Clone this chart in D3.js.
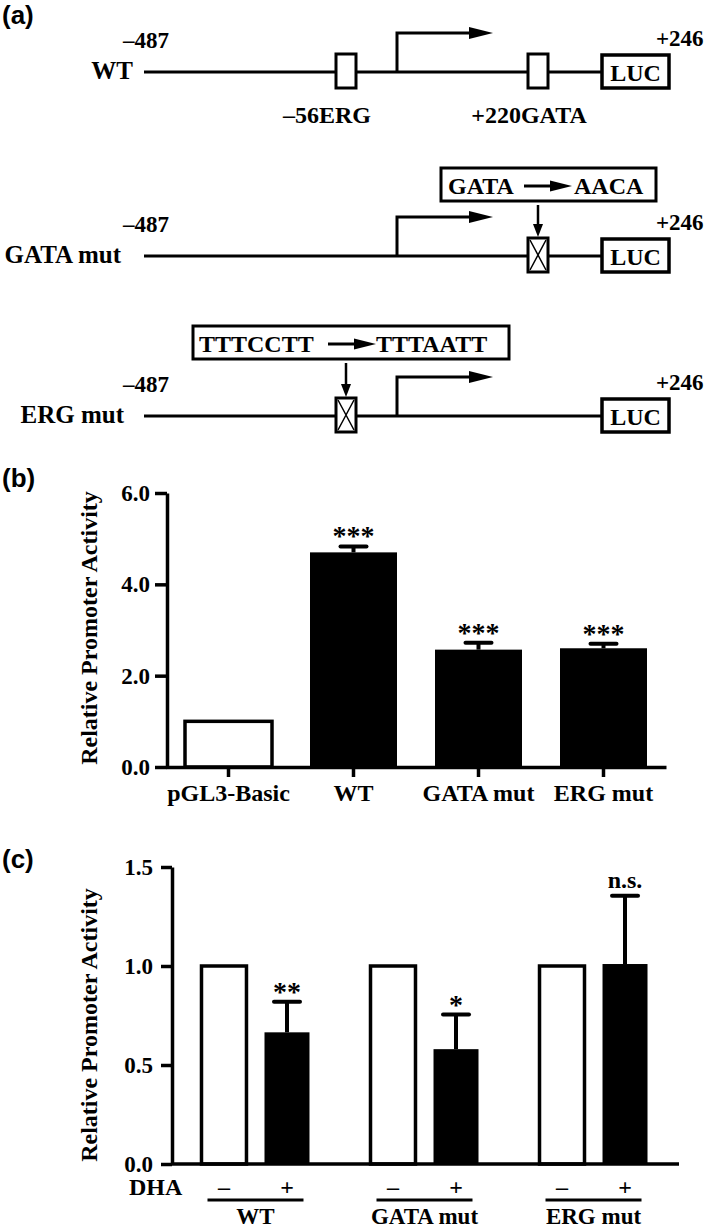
<!DOCTYPE html>
<html><head><meta charset="utf-8">
<script src="https://cdn.jsdelivr.net/npm/d3@7"></script>
<style>body{margin:0;background:#fff} svg{display:block}</style>
</head><body><svg id="chart" width="709" height="1229"></svg>
<script>
// ---------------- DATA ----------------
const panelLetters = ["(a)", "(b)", "(c)"];
const constructNames = ["WT", "GATA mut", "ERG mut"];
const constructEnds = ["–487", "+246"];
const siteNames = ["–56ERG", "+220GATA"];
const reporterName = "LUC";
const mutationFrom = ["GATA", "TTTCCTT"];
const mutationTo = ["AACA", "TTTAATT"];

const bCategories = ["pGL3-Basic", "WT", "GATA mut", "ERG mut"];
const bValues = [1.0, 4.70, 2.57, 2.60];
const bErrors = [0, 0.13, 0.15, 0.10];
const bSig = ["", "***", "***", "***"];
const bTicks = [0, 2, 4, 6];
const bFilled = [false, true, true, true];

const cGroups = ["WT", "GATA mut", "ERG mut"];
const cDHA = ["–", "+"];
const cControl = [1.0, 1.0, 1.0];
const cTreated = [0.665, 0.58, 1.01];
const cTreatedErr = [0.155, 0.175, 0.345];
const cSig = ["**", "*", "n.s."];
const cTicks = [0, 0.5, 1.0, 1.5];
const yTitle = "Relative Promoter Activity";

// ---------------- LAYOUT ----------------
const svg = d3.select("#chart");
const SERIF = "'Liberation Serif','Times New Roman',serif";
const SANS = "'Liberation Sans',Arial,sans-serif";
const INK = "#000";

function letter(txt, y) {
  svg.append("text").attr("x", 2).attr("y", y).text(txt)
    .attr("font-family", SANS).attr("font-weight", "bold").attr("font-size", 26).attr("fill", INK);
}
letter(panelLetters[0], 24);
letter(panelLetters[1], 487);
letter(panelLetters[2], 868);

// ---------- Panel (a): schematic ----------
const g = svg.append("g").attr("font-family", SERIF).attr("font-weight", "bold").attr("fill", INK);
const rowY = [72, 256, 416];
const rowLabelEnd = [133, 121, 124];
const lineX0 = 144, lineX1 = 602;
const ergX = 346, gataX = 538, tssX = 397, arrowTip = 493;
const lucX0 = 602, lucX1 = 669;
const siteW = 20;

function text(sel, x, y, t, anchor, size) {
  return sel.append("text").attr("x", x).attr("y", y).attr("text-anchor", anchor || "start")
    .attr("font-size", size || 24).text(t);
}
function arrowHead(sel, x, y, dir, len, half) {
  let pts;
  if (dir === "right") pts = [[x, y], [x - len, y - half], [x - len, y + half]];
  else pts = [[x, y], [x - half, y - len], [x + half, y - len]];
  sel.append("path").attr("d", d3.line()(pts) + "Z").attr("fill", INK);
}
function siteBox(sel, cx, y, mutated) {
  const x0 = cx - siteW / 2, y0 = y - 18, h = 34;
  sel.append("rect").attr("x", x0).attr("y", y0).attr("width", siteW).attr("height", h)
    .attr("fill", "#fff").attr("stroke", INK).attr("stroke-width", 3);
  if (mutated) {
    sel.append("path").attr("d", `M${x0 + 2},${y0 + 2}L${x0 + siteW - 2},${y0 + h - 2}M${x0 + siteW - 2},${y0 + 2}L${x0 + 2},${y0 + h - 2}`)
      .attr("stroke", INK).attr("stroke-width", 1.5).attr("fill", "none");
  }
}

constructNames.forEach((name, i) => {
  const y = rowY[i];
  const row = g.append("g");
  text(row, rowLabelEnd[i], y + 7, name, "end", 25);
  text(row, 123, y - 24, constructEnds[0], "start", 23);
  text(row, 656, y - 26, constructEnds[1], "start", 23);
  row.append("line").attr("x1", lineX0).attr("x2", lineX1).attr("y1", y).attr("y2", y)
    .attr("stroke", INK).attr("stroke-width", 3);
  // TSS arrow
  row.append("path").attr("d", `M${tssX},${y}V${y - 39}H${arrowTip - 20}`)
    .attr("stroke", INK).attr("stroke-width", 3).attr("fill", "none");
  arrowHead(row, arrowTip, y - 39, "right", 24, 6);
  // sites
  if (i === 0) { siteBox(row, ergX, y, false); siteBox(row, gataX, y, false); }
  if (i === 1) siteBox(row, gataX, y, true);
  if (i === 2) siteBox(row, ergX, y, true);
  // LUC
  row.append("rect").attr("x", lucX0).attr("y", y - 17).attr("width", lucX1 - lucX0).attr("height", 33)
    .attr("fill", "#fff").attr("stroke", INK).attr("stroke-width", 3.5);
  text(row, (lucX0 + lucX1) / 2, y + 9, reporterName, "middle", 24);
});
// site labels row 1
text(g, 327, 123, siteNames[0], "middle", 24);
text(g, 529, 123, siteNames[1], "middle", 24);

// mutation callouts
const callouts = [
  { x0: 441, x1: 656, y0: 168, fromX: 448, a0: 524, a1: 572, toX: 574, siteX: gataX, rowY: rowY[1] },
  { x0: 193, x1: 509, y0: 326, fromX: 199, a0: 328, a1: 376, toX: 376, siteX: ergX, rowY: rowY[2] }
];
callouts.forEach((c, i) => {
  g.append("rect").attr("x", c.x0).attr("y", c.y0).attr("width", c.x1 - c.x0).attr("height", 33)
    .attr("fill", "#fff").attr("stroke", INK).attr("stroke-width", 3);
  const base = c.y0 + 26;
  text(g, c.fromX, base, mutationFrom[i], "start", 24);
  text(g, c.toX, base, mutationTo[i], "start", 24);
  g.append("line").attr("x1", c.a0).attr("x2", c.a1 - 18).attr("y1", base - 8).attr("y2", base - 8)
    .attr("stroke", INK).attr("stroke-width", 3);
  arrowHead(g, c.a1, base - 8, "right", 22, 5.5);
  // down arrow
  const top = c.y0 + 37, tip = c.rowY - 19;
  g.append("line").attr("x1", c.siteX).attr("x2", c.siteX).attr("y1", top).attr("y2", tip - 10)
    .attr("stroke", INK).attr("stroke-width", 2.5);
  arrowHead(g, c.siteX, tip, "down", 13, 5);
});

// ---------- shared axis styling ----------
function styleAxis(ax, fontSize) {
  ax.select(".domain").attr("stroke", INK).attr("stroke-width", 3.5);
  ax.selectAll(".tick line").attr("stroke", INK).attr("stroke-width", 3.5);
  ax.selectAll(".tick text").attr("font-family", SERIF).attr("font-weight", "bold")
    .attr("font-size", fontSize).attr("fill", INK);
}
function yTitleText(cy) {
  svg.append("text").attr("transform", `translate(97,${cy}) rotate(-90)`)
    .attr("text-anchor", "middle").attr("font-family", SERIF).attr("font-weight", "bold")
    .attr("font-size", 24).attr("fill", INK).text(yTitle);
}
function sigText(sel, cx, yt, s) {
  const ns = s === "n.s.";
  sel.append("text").attr("x", cx).attr("y", ns ? yt - 8 : yt - 1)
    .attr("text-anchor", "middle").attr("font-family", SERIF).attr("font-weight", "bold")
    .attr("font-size", ns ? 24 : 28).attr("fill", INK).text(s);
}

// ---------- Panel (b) ----------
const yb = d3.scaleLinear().domain([0, 6]).range([767, 493]);
const xb = d3.scaleBand().domain(bCategories).range([166, 666]).paddingInner(0.304).paddingOuter(0.152);
const pb = svg.append("g");

pb.selectAll("rect.bar").data(bCategories).join("rect").attr("class", "bar")
  .attr("x", d => xb(d)).attr("width", xb.bandwidth())
  .attr("y", (d, i) => yb(bValues[i])).attr("height", (d, i) => yb(0) - yb(bValues[i]))
  .attr("fill", (d, i) => bFilled[i] ? INK : "#fff")
  .attr("stroke", INK).attr("stroke-width", (d, i) => bFilled[i] ? 0 : 3.5);

bCategories.forEach((d, i) => {
  if (!bErrors[i]) return;
  const cx = xb(d) + xb.bandwidth() / 2;
  const yt = yb(bValues[i] + bErrors[i]);
  pb.append("line").attr("x1", cx).attr("x2", cx).attr("y1", yb(bValues[i])).attr("y2", yt)
    .attr("stroke", INK).attr("stroke-width", 4);
  pb.append("line").attr("x1", cx - 13).attr("x2", cx + 13).attr("y1", yt).attr("y2", yt)
    .attr("stroke", INK).attr("stroke-width", 4).attr("stroke-linecap", "round");
  sigText(pb, cx, yt, bSig[i]);
});

const bxAxis = pb.append("g").attr("transform", `translate(0,${yb(0)})`)
  .call(d3.axisBottom(xb).tickSize(10).tickSizeOuter(0));
styleAxis(bxAxis, 24);
bxAxis.selectAll(".tick text").attr("y", 34).attr("dy", 0);
const byAxis = pb.append("g").attr("transform", `translate(${xb.range()[0] + 1},0)`)
  .call(d3.axisLeft(yb).tickValues(bTicks).tickFormat(d3.format(".1f")).tickSize(12).tickSizeOuter(0).tickPadding(5));
styleAxis(byAxis, 23);
yTitleText(628);

// ---------- Panel (c) ----------
const yc = d3.scaleLinear().domain([0, 1.5]).range([1164, 867]);
const xc = d3.scaleBand().domain(cGroups).range([172, 677]).paddingInner(0.361).paddingOuter(0.1745);
const xi = d3.scaleBand().domain(cDHA).range([0, xc.bandwidth()]).paddingInner(0.286).paddingOuter(0);
const pc = svg.append("g");

cGroups.forEach((grp, i) => {
  const gx = xc(grp);
  // control (white)
  pc.append("rect").attr("x", gx + xi(cDHA[0])).attr("width", xi.bandwidth())
    .attr("y", yc(cControl[i])).attr("height", yc(0) - yc(cControl[i]))
    .attr("fill", "#fff").attr("stroke", INK).attr("stroke-width", 3.5);
  // treated (black)
  pc.append("rect").attr("x", gx + xi(cDHA[1])).attr("width", xi.bandwidth())
    .attr("y", yc(cTreated[i])).attr("height", yc(0) - yc(cTreated[i]))
    .attr("fill", INK);
  const cx = gx + xi(cDHA[1]) + xi.bandwidth() / 2;
  const yt = yc(cTreated[i] + cTreatedErr[i]);
  pc.append("line").attr("x1", cx).attr("x2", cx).attr("y1", yc(cTreated[i])).attr("y2", yt)
    .attr("stroke", INK).attr("stroke-width", 4);
  pc.append("line").attr("x1", cx - 13).attr("x2", cx + 13).attr("y1", yt).attr("y2", yt)
    .attr("stroke", INK).attr("stroke-width", 4).attr("stroke-linecap", "round");
  sigText(pc, cx, yt, cSig[i]);
  // DHA signs
  cDHA.forEach(s => {
    pc.append("text").attr("x", gx + xi(s) + xi.bandwidth() / 2).attr("y", 1195)
      .attr("text-anchor", "middle").attr("font-family", SERIF).attr("font-weight", "bold")
      .attr("font-size", 24).attr("fill", INK).text(s);
  });
  // underline and group label
  pc.append("line").attr("x1", gx + 6).attr("x2", gx + xc.bandwidth() - 6).attr("y1", 1200).attr("y2", 1200)
    .attr("stroke", INK).attr("stroke-width", 3);
  pc.append("text").attr("x", gx + xc.bandwidth() / 2).attr("y", 1224).attr("text-anchor", "middle")
    .attr("font-family", SERIF).attr("font-weight", "bold").attr("font-size", 23).attr("fill", INK).text(grp);
});
pc.append("text").attr("x", 129).attr("y", 1195).attr("font-family", SERIF).attr("font-weight", "bold")
  .attr("font-size", 24).attr("fill", INK).text("DHA");

const cxAxis = pc.append("g").attr("transform", `translate(0,${yc(0)})`)
  .call(d3.axisBottom(xc).tickSize(0).tickSizeOuter(0).tickFormat(""));
styleAxis(cxAxis, 24);
cxAxis.select(".domain").attr("d", `M${xc.range()[0]},0H${xc.range()[1] + 2}`);
const cyAxis = pc.append("g").attr("transform", `translate(${xc.range()[0]},0)`)
  .call(d3.axisLeft(yc).tickValues(cTicks).tickFormat(d3.format(".1f")).tickSize(11).tickSizeOuter(0).tickPadding(8));
styleAxis(cyAxis, 23);
yTitleText(1025);
</script></body></html>
